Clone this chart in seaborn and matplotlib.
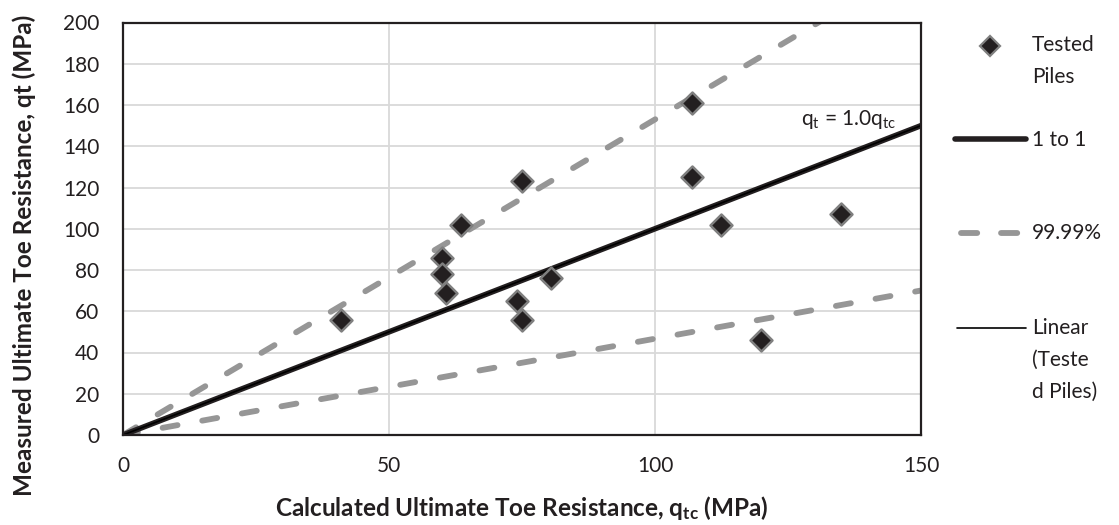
import numpy as np
import pandas as pd
import matplotlib
matplotlib.use("Agg")
import matplotlib.pyplot as plt
from matplotlib.lines import Line2D
import seaborn as sns

# Tested piles: calculated vs measured ultimate toe resistance (MPa)
calc_qtc = [41, 60, 60, 60.7, 63.6, 74, 75, 75, 80.4, 107, 107, 112.4, 120, 135]
meas_qt = [56, 86, 78, 69, 102, 65, 56, 123, 76, 161, 125, 102, 46, 107]

# Reference lines through the origin
line_x = [0, 150]
one_to_one_slope = 1.0
upper_slope = 1.53
lower_slope = 0.467
trend_slope = 1.0

x_ticks = [0, 50, 100, 150]
y_ticks = list(range(0, 201, 20))

sns.set_style("white")
plt.rcParams["font.family"] = ["Lato", "DejaVu Sans"]
plt.rcParams["mathtext.fontset"] = "custom"
plt.rcParams["mathtext.rm"] = "Lato"
plt.rcParams["mathtext.it"] = "Lato:italic"
plt.rcParams["mathtext.bf"] = "Lato:bold"

W, H = 1119, 525
fig = plt.figure(figsize=(W / 100, H / 100), dpi=100)
ax = fig.add_axes([123 / W, 1 - 435 / H, 798 / W, 412.5 / H])

text_c = "#231f20"
grid_c = "#d9d9d9"
dash_c = "#969696"
dash_style = (0, (2.6, 4.3))

for xv in x_ticks[1:-1]:
    ax.axvline(xv, color=grid_c, lw=1.3, zorder=0)
for yv in y_ticks[1:-1]:
    ax.axhline(yv, color=grid_c, lw=1.3, zorder=0)

lines = pd.DataFrame({
    "x": line_x * 4,
    "y": [one_to_one_slope * v for v in line_x]
         + [upper_slope * v for v in line_x]
         + [lower_slope * v for v in line_x]
         + [trend_slope * v for v in line_x],
    "kind": ["1 to 1"] * 2 + ["upper"] * 2 + ["lower"] * 2 + ["trend"] * 2,
})

for kind, color, lw, ls in [("upper", dash_c, 4.2, dash_style),
                            ("lower", dash_c, 4.2, dash_style),
                            ("1 to 1", text_c, 4.0, "-"),
                            ("trend", "#000000", 1.2, "-")]:
    sub = lines[lines["kind"] == kind]
    sns.lineplot(data=sub, x="x", y="y", ax=ax, color=color, lw=lw,
                 linestyle=ls, legend=False, zorder=2,
                 dash_capstyle="round", solid_capstyle="butt")

pts = pd.DataFrame({"qtc": calc_qtc, "qt": meas_qt})
sns.scatterplot(data=pts, x="qtc", y="qt", ax=ax, marker="D", s=125,
                color=text_c, edgecolor="#7f7f7f", linewidth=1.8, zorder=3,
                legend=False)

ax.text(136.5, 153, r"$\mathrm{q_t}$ = 1.0$\mathrm{q_{tc}}$", fontsize=15,
        ha="center", va="center", color=text_c)

ax.set_xlim(0, 150)
ax.set_ylim(0, 200)
ax.set_xticks(x_ticks)
ax.set_yticks(y_ticks)
ax.tick_params(axis="both", labelsize=15, length=0, colors=text_c)
ax.tick_params(axis="x", pad=15)
ax.tick_params(axis="y", pad=17)
for sp in ax.spines.values():
    sp.set_color(text_c)
    sp.set_linewidth(1.6)

ax.set_xlabel(r"Calculated Ultimate Toe Resistance, $\mathbf{q_{tc}}$ (MPa)",
              fontsize=17.5, fontweight="bold", color=text_c)
ax.set_ylabel("Measured Ultimate Toe Resistance, qt (MPa)",
              fontsize=17.5, fontweight="bold", color=text_c)
ax.xaxis.set_label_coords(0.5, (435 - 508) / 412.5)
ax.xaxis.label.set_verticalalignment("center")
ax.yaxis.set_label_coords((24 - 123) / 798, (435 - 255) / 412.5)
ax.yaxis.label.set_verticalalignment("center")

# Legend entries laid out in figure pixels on the right
def fx(px):
    return px / W

def fy(py):
    return 1 - py / H

fig.add_artist(Line2D([fx(990)], [fy(46)], marker="D", color=text_c,
                      markeredgecolor="#7f7f7f", markersize=10, mew=1.6,
                      linestyle="none", transform=fig.transFigure))
fig.add_artist(Line2D([fx(955), fx(1026)], [fy(139), fy(139)], color=text_c,
                      lw=4.0, solid_capstyle="round", transform=fig.transFigure))
fig.add_artist(Line2D([fx(961), fx(1018)], [fy(233), fy(233)], color=dash_c,
                      lw=4.2, linestyle=(0, (2.78, 4.08)), dash_capstyle="round",
                      transform=fig.transFigure))
fig.add_artist(Line2D([fx(957), fx(1026)], [fy(328), fy(328)], color="#000000",
                      lw=1.2, transform=fig.transFigure))

legend_rows = [("Tested", 45), ("Piles", 77), ("1 to 1", 140), ("99.99%", 233),
               ("Linear", 328), ("(Teste", 360), ("d Piles)", 392)]
for txt, py in legend_rows:
    fig.text(fx(1032), fy(py), txt, fontsize=15, color=text_c,
             ha="left", va="center")

fig.savefig("out.png", dpi=100)
